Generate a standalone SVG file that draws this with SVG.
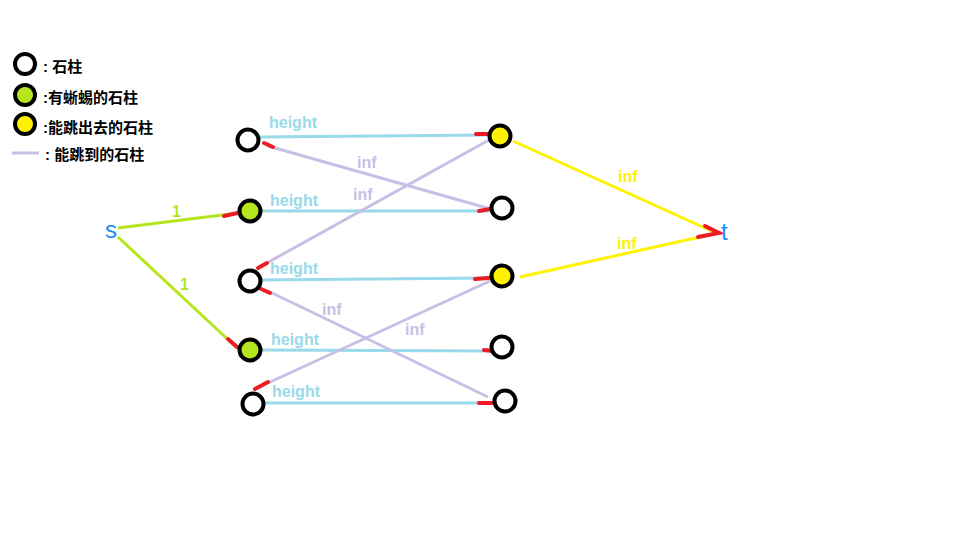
<svg xmlns="http://www.w3.org/2000/svg" width="960" height="540" viewBox="0 0 960 540">
<style>
.node{stroke:#000;stroke-width:4}
.w{fill:#fff}.g{fill:#b5e61d}.y{fill:#fff200}
.lbl{font-family:"Liberation Sans",Arial,sans-serif;font-weight:bold;font-size:16px}
.leg{font-family:"Liberation Sans","Noto Sans CJK SC",sans-serif;font-weight:bold;font-size:15px;fill:#000}
.st{font-family:"Liberation Sans",Arial,sans-serif;font-size:24px;fill:#1a8cff}
.h{stroke:#99d9ea;stroke-width:3;fill:none}
.p{stroke:#c8bfe7;stroke-width:3;fill:none}
.gr{stroke:#b5e61d;stroke-width:3;fill:none}
.ye{stroke:#fff200;stroke-width:3;fill:none}
.r{stroke:#ed1c24;stroke-width:4;stroke-linecap:round;fill:none}
</style>
<rect width="960" height="540" fill="#fff"/>
<g id="legend">
<circle class="node w" cx="25" cy="64" r="10"/>
<circle class="node g" cx="25" cy="95" r="10"/>
<circle class="node y" cx="25" cy="124" r="10"/>
<line x1="12" y1="153" x2="39" y2="153" class="p"/>
<text class="leg" x="43" y="72">: 石柱</text>
<text class="leg" x="43" y="103">:有蜥蜴的石柱</text>
<text class="leg" x="43" y="133">:能跳出去的石柱</text>
<text class="leg" x="45" y="160">:  能跳到的石柱</text>
</g>
<g id="connectors">
<line class="gr" x1="118" y1="228" x2="238" y2="213"/>
<line class="gr" x1="118" y1="237" x2="237" y2="348"/>
<line class="h" x1="260" y1="137" x2="489" y2="135"/>
<line class="h" x1="262" y1="211" x2="489" y2="211"/>
<line class="h" x1="260" y1="280" x2="489" y2="278"/>
<line class="h" x1="262" y1="350" x2="492" y2="351"/>
<line class="h" x1="263" y1="403" x2="495" y2="403"/>
<line class="p" x1="268" y1="146" x2="487" y2="208"/>
<line class="p" x1="265" y1="264" x2="489" y2="140"/>
<line class="p" x1="268" y1="291" x2="488" y2="397"/>
<line class="p" x1="268" y1="383" x2="490" y2="281"/>
<line class="ye" x1="513" y1="141" x2="716" y2="233"/>
<line class="ye" x1="520" y1="277" x2="700" y2="237"/>
<line class="r" x1="224" y1="216" x2="238" y2="213"/>
<line class="r" x1="228" y1="339" x2="237" y2="347"/>
<line class="r" x1="258" y1="268" x2="267" y2="263"/>
<line class="r" x1="259" y1="288" x2="270" y2="293"/>
<line class="r" x1="255" y1="389" x2="268" y2="382"/>
<line class="r" x1="264" y1="143" x2="273" y2="147"/>
<line class="r" x1="476" y1="134" x2="489" y2="134"/>
<line class="r" x1="479" y1="211" x2="490" y2="209"/>
<line class="r" x1="475" y1="279" x2="489" y2="278"/>
<line class="r" x1="484" y1="350" x2="494" y2="351"/>
<line class="r" x1="479" y1="403" x2="496" y2="403"/>
<polyline class="r" points="705,226 719,233 698,237"/>
<text class="lbl" fill="#b5e61d" x="172" y="217">1</text>
<text class="lbl" fill="#b5e61d" x="180" y="290">1</text>
<text class="lbl" fill="#99d9ea" x="269" y="128">height</text>
<text class="lbl" fill="#99d9ea" x="270" y="206">height</text>
<text class="lbl" fill="#99d9ea" x="270" y="274">height</text>
<text class="lbl" fill="#99d9ea" x="271" y="345">height</text>
<text class="lbl" fill="#99d9ea" x="272" y="397">height</text>
<text class="lbl" fill="#c8bfe7" x="357" y="168">inf</text>
<text class="lbl" fill="#c8bfe7" x="353" y="200">inf</text>
<text class="lbl" fill="#c8bfe7" x="322" y="315">inf</text>
<text class="lbl" fill="#c8bfe7" x="405" y="335">inf</text>
<text class="lbl" fill="#fff200" x="618" y="182">inf</text>
<text class="lbl" fill="#fff200" x="617" y="249">inf</text>
</g>
<g id="s"><text class="st" x="105" y="238">s</text></g>
<g id="t"><text class="st" x="721" y="240">t</text></g>
<g id="L1"><circle class="node w" cx="248" cy="140" r="10.5"/></g>
<g id="L2"><circle class="node g" cx="250" cy="211" r="10.5"/></g>
<g id="L3"><circle class="node w" cx="250" cy="281" r="10.5"/></g>
<g id="L4"><circle class="node g" cx="250" cy="350" r="10.5"/></g>
<g id="L5"><circle class="node w" cx="253" cy="404" r="10.5"/></g>
<g id="R1"><circle class="node y" cx="500" cy="136" r="10.5"/></g>
<g id="R2"><circle class="node w" cx="502" cy="208" r="10.5"/></g>
<g id="R3"><circle class="node y" cx="502" cy="276" r="10.5"/></g>
<g id="R4"><circle class="node w" cx="502" cy="347" r="10.5"/></g>
<g id="R5"><circle class="node w" cx="505" cy="401" r="10.5"/></g>
</svg>
